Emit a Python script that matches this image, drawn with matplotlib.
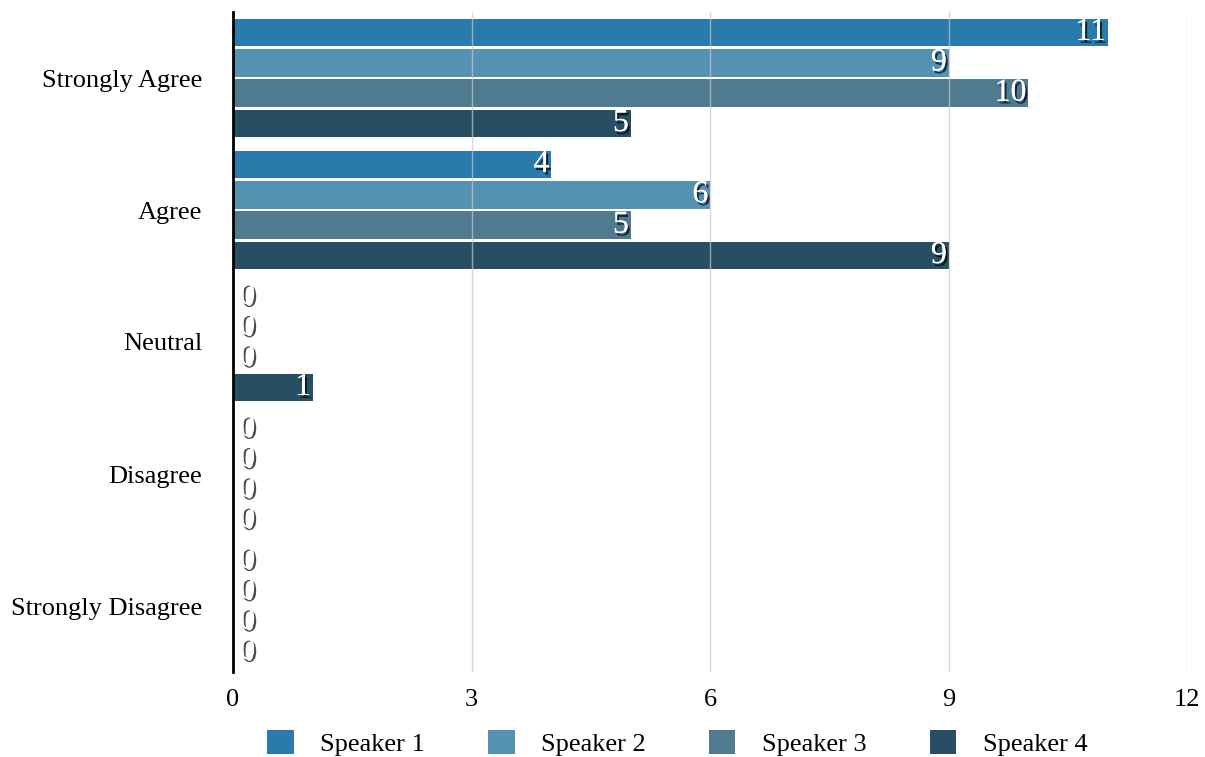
import numpy as np
import matplotlib
matplotlib.use('Agg')
import matplotlib.pyplot as plt
import matplotlib.patheffects as pe

categories = ['Strongly Agree', 'Agree', 'Neutral', 'Disagree', 'Strongly Disagree']
speakers = ['Speaker 1', 'Speaker 2', 'Speaker 3', 'Speaker 4']
speaker1 = [11, 4, 0, 0, 0]
speaker2 = [9, 6, 0, 0, 0]
speaker3 = [10, 5, 0, 0, 0]
speaker4 = [5, 9, 1, 0, 0]
values = [speaker1, speaker2, speaker3, speaker4]
colors = ['#2a7aab', '#5591b0', '#4f7a90', '#264f64']

plt.rcParams['font.family'] = ['Liberation Serif', 'DejaVu Serif']

fig = plt.figure(figsize=(12.05, 7.57), dpi=100)
ax = fig.add_axes([233 / 1205, 85 / 757, 954 / 1205, 660 / 757])

y = np.arange(len(categories))
slot = 0.23
bh = 0.21
shadow = [pe.withSimplePatchShadow(offset=(1.5, -2), shadow_rgbFace='black', alpha=0.7), pe.Normal()]

for i, (name, vals, c) in enumerate(zip(speakers, values, colors)):
    pos = y + (i - 1.5) * slot
    ax.barh(pos, vals, height=bh, color=c, label=name, zorder=2)
    for p, v in zip(pos, vals):
        if v > 0:
            ax.text(v - 0.02, p, str(v), ha='right', va='center', color='white',
                    fontsize=23, path_effects=shadow, zorder=4)
        else:
            ax.text(0.08, p, str(v), ha='left', va='center', color='white',
                    fontsize=23, path_effects=shadow, zorder=4)

ax.set_ylim(len(categories) - 0.5, -0.5)
ax.set_xlim(0, 12)
ax.set_xticks([0, 3, 6, 9, 12])
ax.set_yticks(y)
ax.set_yticklabels(categories)
ax.tick_params(axis='both', length=0, labelsize=19)
ax.tick_params(axis='y', pad=22)
ax.tick_params(axis='x', pad=12)
ax.grid(axis='x', color='#c8c8c8', linewidth=1, zorder=3, alpha=0.7)
ax.set_axisbelow(False)
for s in ['top', 'right', 'bottom']:
    ax.spines[s].set_visible(False)
ax.spines['left'].set_linewidth(2)
ax.spines['left'].set_color('black')
ax.spines['left'].set_zorder(5)

fig.legend(loc='lower center', bbox_to_anchor=(0.562, -0.03), ncol=4, frameon=False,
           fontsize=19, handlelength=1.0, handleheight=1.0, columnspacing=2.4, handletextpad=1.0)

fig.savefig('out.png', dpi=100)
